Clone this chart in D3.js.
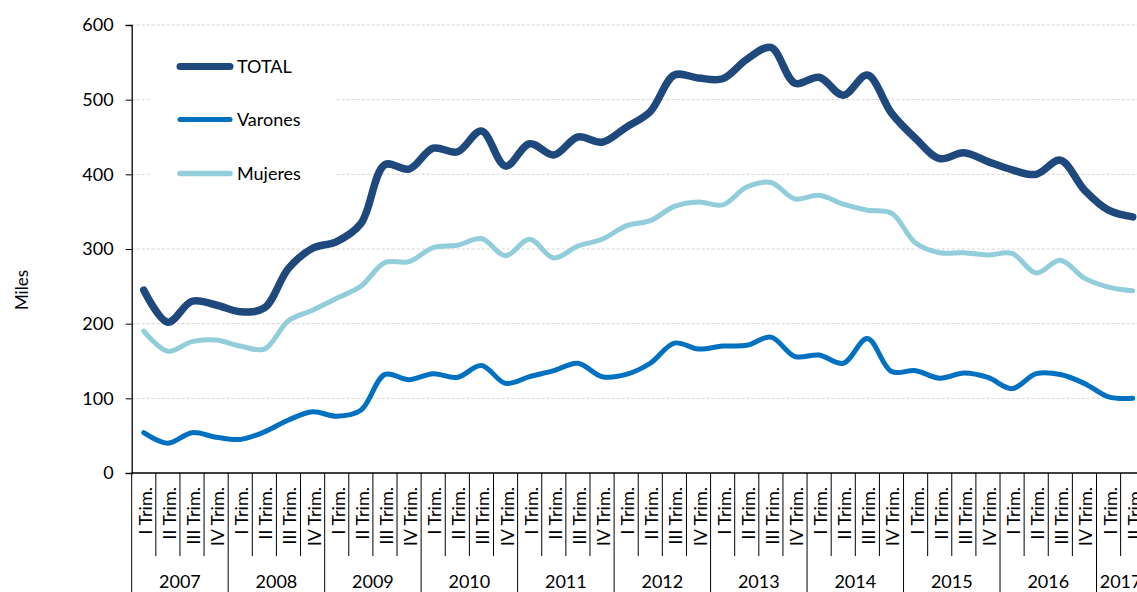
<!DOCTYPE html>
<html>
<head>
<meta charset="utf-8">
<script src="https://cdn.jsdelivr.net/npm/d3@7"></script>
<style>
  html, body { margin: 0; padding: 0; background: #fff; overflow: hidden; }
  svg { display: block; }
  text { font-family: Lato, "Open Sans", sans-serif; fill: #000; }
</style>
</head>
<body>
<div id="chart"></div>
<script>
const years = ["2007","2008","2009","2010","2011","2012","2013","2014","2015","2016","2017"];
const quarterNames = ["I Trim.","II Trim.","III Trim.","IV Trim."];
const quarters = [];
years.forEach(yr => {
  const n = yr === "2017" ? 2 : 4;
  for (let q = 0; q < n; q++) quarters.push({ year: yr, label: quarterNames[q] });
});

const total = [245,202,230,225,216,221,274,301,310,334,413,407,435,430,458,411,441,426,450,443,463,484,533,529,528,554,570,522,530,506,533,482,448,421,429,417,406,400,419,379,352,343];
const varones = [54,40,54,48,45,55,71,82,76,84,132,125,133,128,144,120,129,137,147,129,132,147,174,166,170,171,182,156,158,147,180,136,137,127,134,128,113,133,132,120,102,100];
const mujeres = [190,163,176,178,170,166,204,218,234,250,282,283,302,305,314,291,313,288,304,313,331,338,357,363,359,383,389,367,372,360,352,348,308,295,295,292,294,268,285,261,249,244];

const yTicks = [0,100,200,300,400,500,600];

const series = [
  { name: "TOTAL", values: total, color: "#1F497D", width: 7.5, legendWidth: 7 },
  { name: "Varones", values: varones, color: "#0070C0", width: 5, legendWidth: 5 },
  { name: "Mujeres", values: mujeres, color: "#92CDDC", width: 5, legendWidth: 5.5 }
];

const W = 1137, H = 592;
const plotLeft = 131.7, qw = 24.12, plotTop = 25, plotBottom = 473;
const svg = d3.select("#chart").append("svg").attr("width", W).attr("height", H);

const x = d3.scaleBand().domain(d3.range(quarters.length)).range([plotLeft, plotLeft + qw * quarters.length]).padding(0);
const xc = i => x(i) + x.bandwidth() / 2;
const y = d3.scaleLinear().domain([0, 600]).range([plotBottom, plotTop]);
const plotRight = plotLeft + qw * quarters.length;

// gridlines
svg.append("g").selectAll("line").data(yTicks.filter(d => d > 0)).join("line")
  .attr("x1", plotLeft).attr("x2", plotRight)
  .attr("y1", d => y(d)).attr("y2", d => y(d))
  .attr("stroke", "#d4d4d4").attr("stroke-width", 1).attr("stroke-dasharray", "3,2");

// legend background (covers gridlines)
svg.append("rect").attr("x", 151).attr("y", 38).attr("width", 184).attr("height", 158).attr("fill", "#fff");

// y axis
const yAxis = d3.axisLeft(y).tickValues(yTicks).tickSize(6).tickPadding(12).tickFormat(d3.format("d"));
const gy = svg.append("g").attr("transform", `translate(${plotLeft},0)`).call(yAxis);
gy.select(".domain").attr("stroke", "#000").attr("stroke-width", 1.3);
gy.selectAll(".tick line").attr("stroke", "#000");
gy.selectAll(".tick text").style("font-size", "18px").style("font-family", "Lato, sans-serif").attr("fill", "#000");

// x axis line
svg.append("line").attr("x1", plotLeft).attr("x2", plotRight).attr("y1", plotBottom).attr("y2", plotBottom)
  .attr("stroke", "#000").attr("stroke-width", 1.3);

// quarter separators
const gx = svg.append("g");
gx.selectAll("line.q").data(d3.range(quarters.length + 1)).join("line").attr("class", "q")
  .attr("x1", i => i < quarters.length ? x(i) : plotRight)
  .attr("x2", i => i < quarters.length ? x(i) : plotRight)
  .attr("y1", plotBottom)
  .attr("y2", i => (i === quarters.length || (i < quarters.length && quarters[i].label === "I Trim.")) ? H : 556)
  .attr("stroke", "#000").attr("stroke-width", 1);

// quarter labels
gx.selectAll("text.q").data(quarters).join("text").attr("class", "q")
  .attr("transform", (d, i) => `translate(${xc(i) + 8},487) rotate(-90)`)
  .attr("text-anchor", "end")
  .style("font-size", "18px")
  .text(d => d.label);

// year labels
const yearGroups = d3.groups(quarters.map((d, i) => ({ ...d, i })), d => d.year);
gx.selectAll("text.yr").data(yearGroups).join("text").attr("class", "yr")
  .attr("x", d => (x(d[1][0].i) + x(d[1][d[1].length - 1].i) + x.bandwidth()) / 2)
  .attr("y", 588)
  .attr("text-anchor", "middle")
  .style("font-size", "18px")
  .text(d => d[0]);

// y axis title
svg.append("text").attr("transform", "translate(28,290) rotate(-90)")
  .attr("text-anchor", "middle").style("font-size", "17px").text("Miles");

// lines
const line = d3.line().x((d, i) => xc(i)).y(d => y(d)).curve(d3.curveCatmullRom.alpha(0.5));
svg.append("g").selectAll("path").data([series[2], series[1], series[0]]).join("path")
  .attr("d", d => line(d.values))
  .attr("fill", "none")
  .attr("stroke", d => d.color)
  .attr("stroke-width", d => d.width)
  .attr("stroke-linecap", "round")
  .attr("stroke-linejoin", "round");

// legend
const legY = [66.5, 119.5, 173.5];
const lg = svg.append("g");
series.forEach((s, k) => {
  lg.append("line").attr("x1", 180).attr("x2", 230).attr("y1", legY[k]).attr("y2", legY[k])
    .attr("stroke", s.color).attr("stroke-width", s.legendWidth).attr("stroke-linecap", "round");
  lg.append("text").attr("x", 237).attr("y", legY[k]).attr("dy", "0.36em")
    .style("font-size", "18px").text(s.name);
});
</script>
</body>
</html>
